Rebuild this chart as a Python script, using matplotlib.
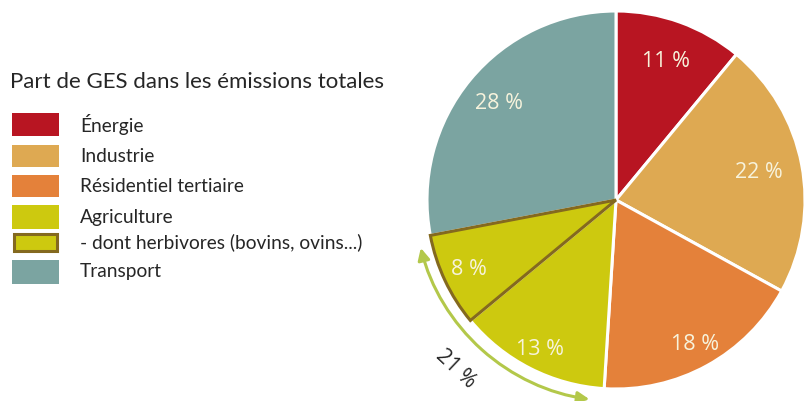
import numpy as np
import matplotlib
matplotlib.use("Agg")
import matplotlib.pyplot as plt
from matplotlib.patches import Rectangle, FancyArrowPatch
from matplotlib.path import Path
from matplotlib.transforms import Affine2D

# ---- data ----
sectors = ["Énergie", "Industrie", "Résidentiel tertiaire", "Agriculture",
           "- dont herbivores (bovins, ovins...)", "Transport"]
values = [11, 22, 18, 13, 8, 28]
pct_labels = ["11 %", "22 %", "18 %", "13 %", "8 %", "28 %"]
agri_total_label = "21 %"
title = "Part de GES dans les émissions totales"

# ---- style ----
colors = ["#b81522", "#dea952", "#e4813a", "#cdc90f", "#cdc90f", "#7ba4a1"]
herb_edge = "#84691f"
arrow_col = "#b3c84a"
label_col = "#f7f3dc"
text_col = "#262626"
label_r = [0.78, 0.77, 0.87, 0.89, 0.86, 0.80]

W, H = 807, 401
fig = plt.figure(figsize=(W / 100, H / 100), dpi=100)
ax = fig.add_axes([0, 0, 1, 1])

cx, cy, R = 616, H - 200, 189

wedges, _ = ax.pie(values, colors=colors, startangle=90, counterclock=False,
                   center=(cx, cy), radius=R,
                   wedgeprops=dict(edgecolor="white", linewidth=2.2))
# herbivores slice outlined
hw = wedges[4]
hw.set_edgecolor(herb_edge)
hw.set_linewidth(2.2)
hw.set_zorder(5)

ax.set_xlim(0, W)
ax.set_ylim(0, H)
ax.set_aspect("equal")
ax.axis("off")

# percentage labels
for w, lab, rf in zip(wedges, pct_labels, label_r):
    mid = np.deg2rad((w.theta1 + w.theta2) / 2)
    x = cx + rf * R * np.cos(mid)
    y = cy + rf * R * np.sin(mid)
    ax.text(x, y, lab, ha="center", va="center", color=label_col,
            fontsize=15.5, family="Open Sans", zorder=10)

# arc arrow spanning agriculture (incl. herbivores)
a_start = wedges[4].theta1
a_end = wedges[3].theta2
ra = R + 12
arc = Path.arc(a_start + 3, a_end - 4)
arc = Affine2D().scale(ra).translate(cx, cy).transform_path(arc)
arr = FancyArrowPatch(path=arc, arrowstyle="<|-|>,head_length=7,head_width=3.5",
                      color=arrow_col, lw=2.2, zorder=6)
ax.add_patch(arr)
amid = np.deg2rad((a_start + a_end) / 2 - 2)
ax.text(cx + (R + 44) * np.cos(amid), cy + (R + 44) * np.sin(amid),
        agri_total_label, rotation=np.rad2deg(amid) + 90,
        ha="center", va="center", color=text_col, fontsize=15,
        family="Open Sans", rotation_mode="anchor")

# legend
ax.text(10, H - 82, title, ha="left", va="center", color=text_col,
        fontsize=16, family="Lato")
rows = [(113, 136), (145, 167), (175, 197), (205, 229), (232, 253), (260, 284)]
for i, (lab, (t, b)) in enumerate(zip(sectors, rows)):
    if i == 4:
        ax.add_patch(Rectangle((14, H - b + 2), 43, (b - t) - 4,
                               facecolor=colors[i], edgecolor=herb_edge, lw=2.2))
    else:
        ax.add_patch(Rectangle((12, H - b), 47, b - t, facecolor=colors[i],
                               edgecolor="none"))
    ax.text(80, H - (t + b) / 2, lab, ha="left", va="center", color=text_col,
            fontsize=13.8, family="Lato")

fig.savefig("out.png", dpi=100)
